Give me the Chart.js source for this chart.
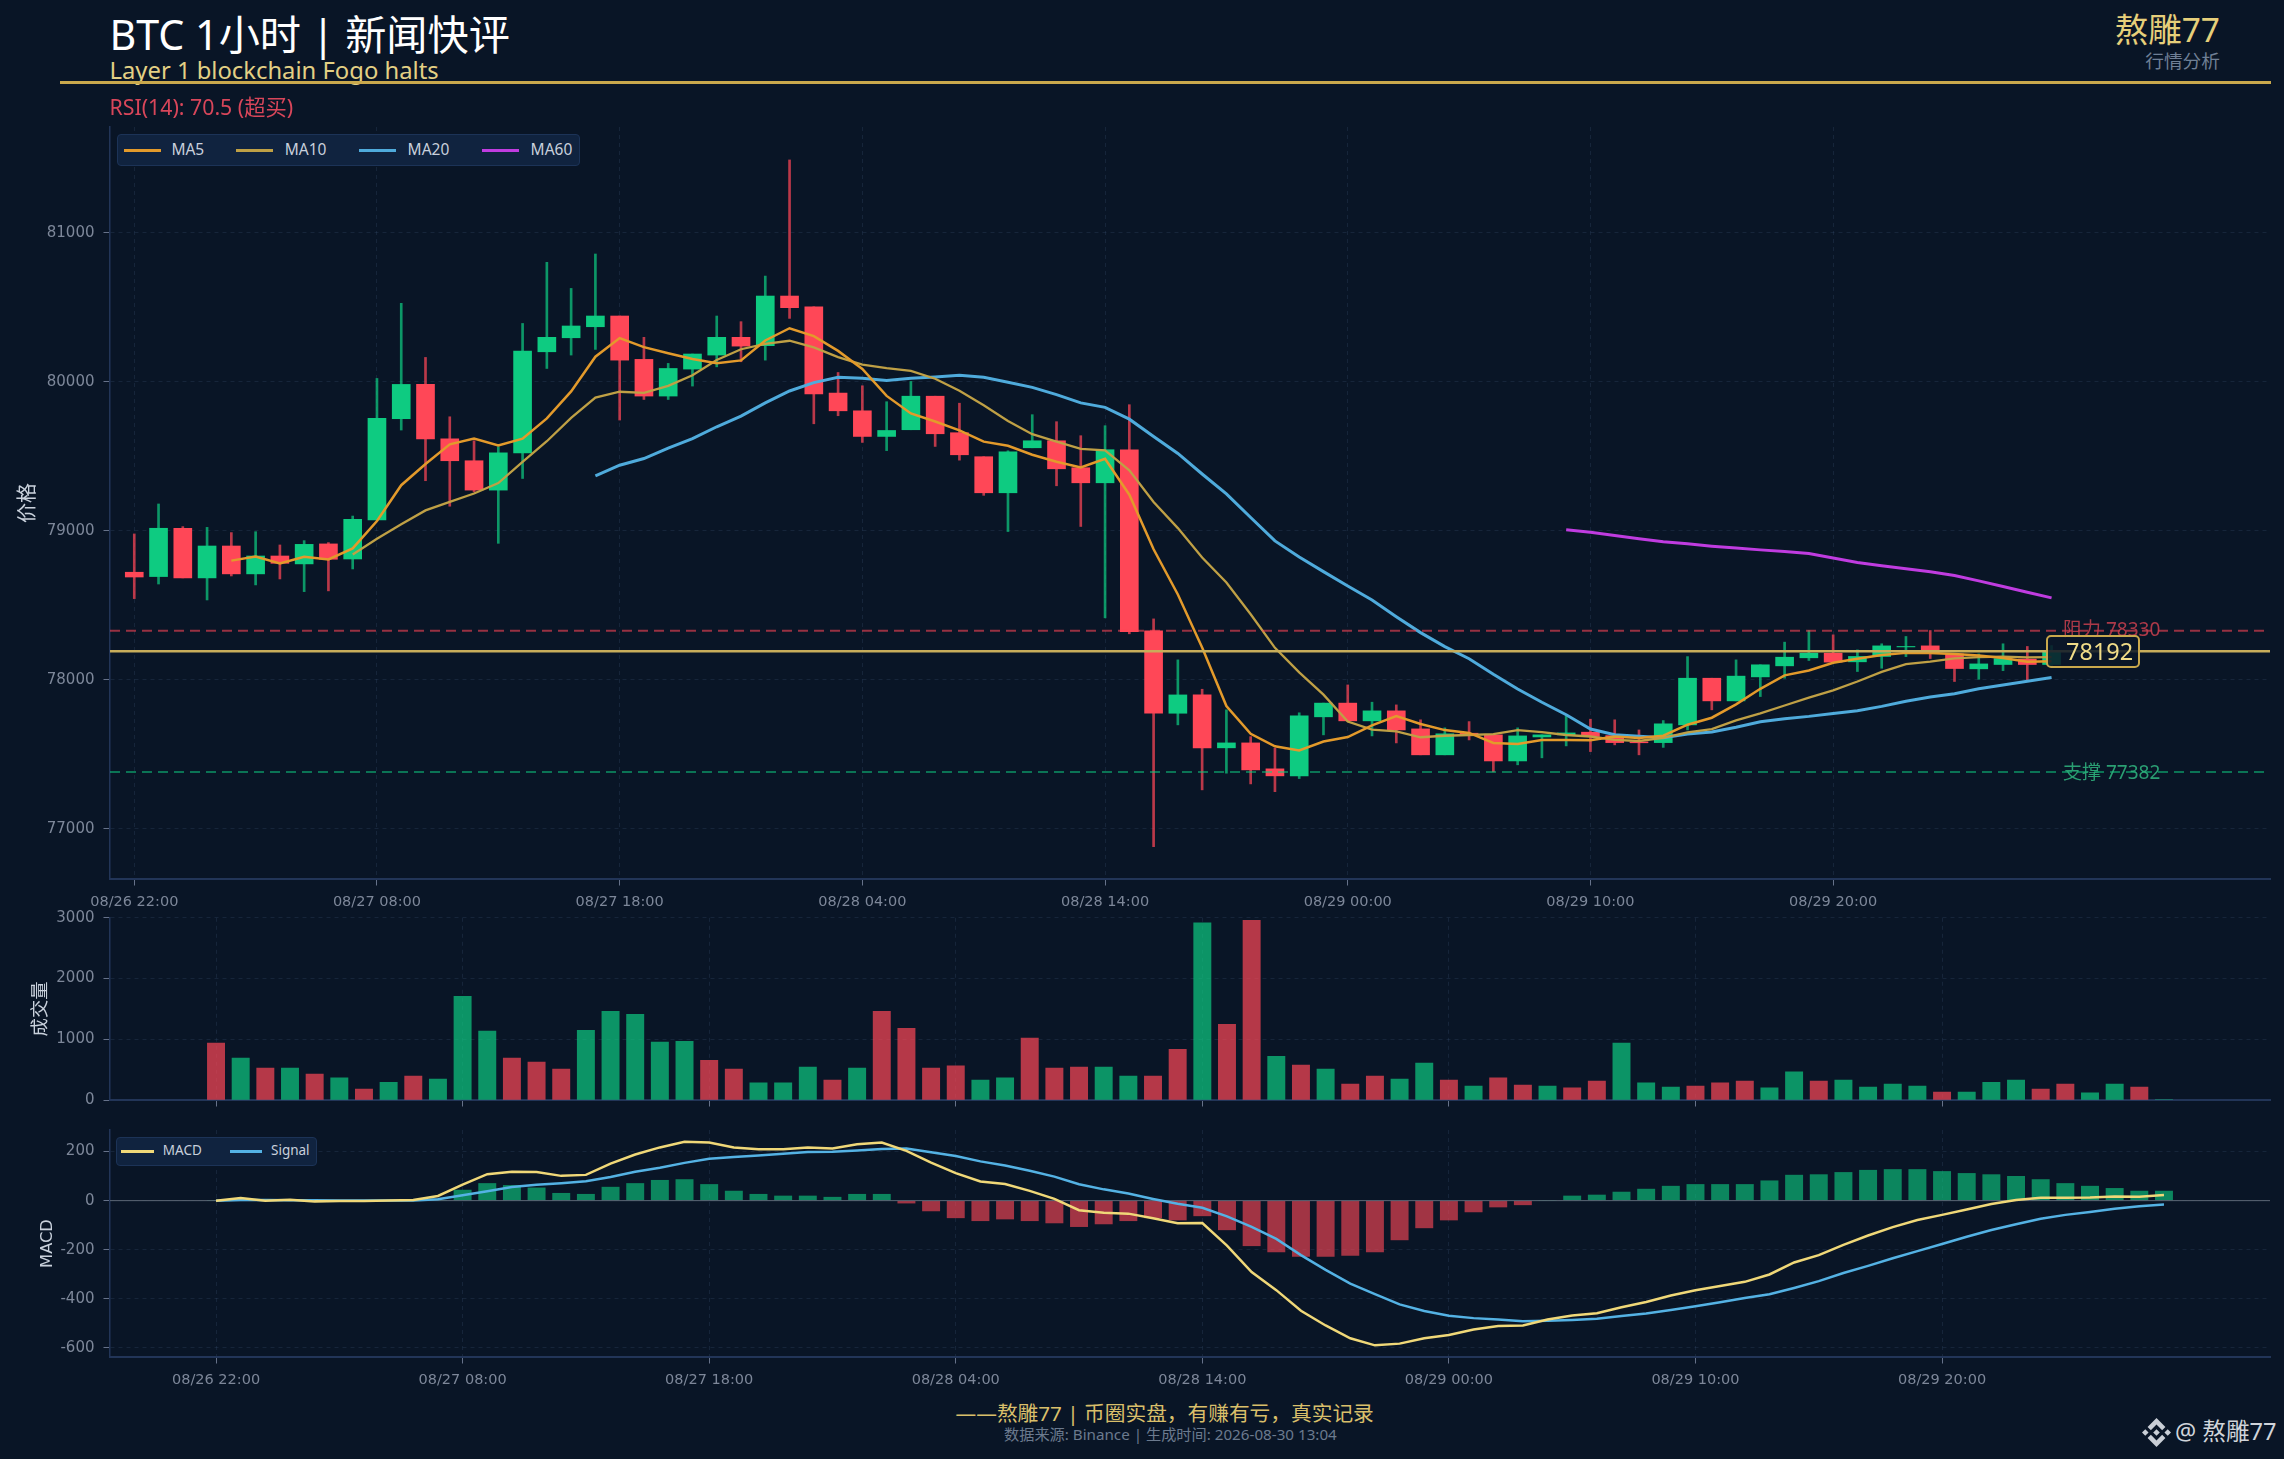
<!DOCTYPE html>
<html lang="zh-CN"><head><meta charset="utf-8">
<script src="https://cdn.jsdelivr.net/npm/chart.js@4/dist/chart.umd.min.js"></script>
<style>
html,body{margin:0;padding:0;background:#091526;width:2284px;height:1459px;overflow:hidden}
canvas{position:absolute;left:0}
.t{position:absolute;white-space:nowrap;transform:translateY(-50%);font-family:"DejaVu Sans","Noto Sans CJK SC",sans-serif;line-height:1}
.cjk{font-family:"Noto Sans","Noto Sans CJK SC",sans-serif}
.r{transform:translate(-100%,-50%)}
.box{position:absolute;box-sizing:border-box;background:#10233f;border:1px solid #1c3357;border-radius:4px}
.sw{position:absolute;height:3px}
.tc{font-family:"Noto Sans CJK TC"}
</style></head><body>
<canvas id="cPrice"></canvas><canvas id="cVol"></canvas><canvas id="cMacd"></canvas>

<div class="t cjk" style="left:109.5px;top:35px;font-size:41.2px;color:#fff">BTC 1小时 | 新闻快评</div>
<div class="t cjk" style="left:109.5px;top:71px;font-size:23.8px;color:#e3d084">Layer 1 blockchain Fogo halts</div>
<div style="position:absolute;left:60px;top:81px;width:2211px;height:3px;background:#c9a84c"></div>
<div class="t cjk" style="left:109.5px;top:106.5px;font-size:21.3px;color:#d8465a">RSI(14): 70.5 (超买)</div>
<div class="t cjk r" style="left:2220px;top:30px;font-size:33.5px;color:#e6cf7a">熬雕77</div>
<div class="t cjk r" style="left:2220px;top:61px;font-size:18.7px;color:#6f7f95">行情分析</div>

<div id="legendPrice" class="box" style="left:117px;top:134px;width:463px;height:32px"></div>
<div id="legendMacd" class="box" style="left:116px;top:1137px;width:201px;height:28.5px"></div>

<div class="t cjk" style="left:2063px;top:629px;font-size:19px;color:#c8404f;opacity:.85">阻力 78330</div>
<div class="t cjk" style="left:2063px;top:771.5px;font-size:19px;color:#2fae7c;opacity:.9">支撑 77382</div>
<div style="position:absolute;left:2046px;top:635px;width:94px;height:33px;box-sizing:border-box;border:2px solid #c9a84c;border-radius:5px;background:rgba(10,22,40,.86)"></div>
<div class="t cjk" style="left:2066px;top:651.5px;font-size:23.5px;color:#f0dc88">78192</div>

<div class="t cjk" style="left:955.5px;top:1412.5px;font-size:20.7px;color:#d9bf6a">——熬雕77 | 币圈实盘<span class="tc">，</span>有赚有亏<span class="tc">，</span>真实记录</div>
<div class="t cjk" style="left:1004px;top:1435px;font-size:15.2px;color:#6b7a8e">数据来源: Binance | 生成时间: 2026-08-30 13:04</div>
<svg style="position:absolute;left:2142px;top:1418px" width="29" height="29" viewBox="0 0 126.61 126.61" fill="#c9ced6">
<path d="M38.73 53.2l24.59-24.58 24.6 24.6 14.3-14.31L63.32 0 24.42 38.9l14.31 14.3zM0 63.31l14.3-14.31 14.31 14.31-14.31 14.3zM38.73 73.41l24.59 24.59 24.6-24.6 14.31 14.29-38.9 38.91-38.91-38.88-.02-.02zM98 63.31l14.3-14.31 14.31 14.3-14.31 14.32zM77.83 63.3L63.32 48.78 52.59 59.51l-1.24 1.23-2.54 2.54 14.51 14.5 14.51-14.47z"/></svg>
<div class="t cjk" style="left:2175px;top:1432px;font-size:23.6px;color:#d0d4da">@ 熬雕77</div>

<script>
const xTickLabels=['08/26 22:00','08/27 08:00','08/27 18:00','08/28 04:00','08/28 14:00','08/29 00:00','08/29 10:00','08/29 20:00'];
const xTickIndex=[0,10,20,30,40,50,60,70];
const priceTicks=[77000,78000,79000,80000,81000];
const volumeTicks=[0,1000,2000,3000];
const macdTicks=[-600,-400,-200,0,200];
const open=[78722,78693,79017,78684,78898,78711,78831,78778,78912,78811,79073,79752,79982,79617,79470,79273,79523,80201,80295,80369,80441,80150,79904,80085,80179,80298,80242,80575,80503,79924,79805,79633,79678,79903,79658,79497,79255,79557,79604,79423,79322,79544,78329,77776,77899,77544,77577,77403,77356,77752,77844,77725,77792,77671,77497,77642,77631,77456,77617,77631,77649,77626,77584,77579,77698,78011,77859,78020,78094,78148,78179,78121,78157,78221,78228,78174,78074,78103,78139,78103];
const high=[78979,79180,79028,79023,78988,78994,78905,78934,78921,79099,80022,80526,80163,79765,79604,79564,80391,80801,80626,80857,80441,80298,80123,80186,80441,80403,80709,81488,80503,80062,79973,79866,80002,79903,79856,79497,79537,79779,79732,79638,79705,79846,78409,78134,77937,77799,77619,77542,77779,77844,77966,77850,77832,77732,77678,77720,77631,77678,77631,77758,77736,77732,77664,77727,78156,78011,78134,78101,78253,78331,78302,78201,78242,78291,78331,78174,78174,78242,78224,78230];
const low=[78545,78643,78684,78536,78697,78637,78677,78592,78597,78744,79073,79676,79336,79165,79261,78916,79351,80089,80179,80217,79743,79881,79881,79971,80100,80134,80145,80425,79718,79772,79593,79538,79678,79566,79474,79238,78995,79557,79302,79029,78416,78309,76881,77698,77262,77374,77302,77250,77338,77631,77725,77624,77577,77497,77497,77597,77383,77430,77477,77557,77519,77564,77497,77547,77664,77799,77859,77888,78011,78130,78119,78056,78078,78156,78143,77989,78004,78062,78000,78090];
const close=[78690,79017,78684,78898,78711,78831,78782,78909,78809,79077,79754,79982,79617,79470,79273,79523,80206,80298,80374,80441,80145,79904,80089,80186,80298,80239,80575,80497,79919,79805,79633,79673,79903,79651,79510,79255,79530,79604,79416,79322,79544,78324,77776,77899,77544,77577,77396,77356,77758,77844,77725,77792,77664,77497,77638,77631,77456,77624,77631,77644,77620,77579,77578,77705,78011,77859,78025,78101,78152,78179,78119,78157,78228,78224,78179,78076,78107,78143,78103,78192];
const ma5=[null,null,null,null,78800,78828,78781,78826,78808,78882,79066,79306,79448,79580,79619,79573,79618,79754,79935,80168,80293,80232,80191,80153,80124,80143,80277,80359,80306,80207,80086,79905,79787,79733,79674,79598,79570,79510,79463,79425,79483,79242,78876,78573,78217,77824,77638,77554,77526,77586,77616,77695,77757,77704,77663,77644,77577,77569,77596,77597,77595,77620,77610,77625,77699,77746,77836,77940,78030,78063,78115,78142,78167,78181,78181,78173,78163,78146,78122,78124];
const ma10=[null,null,null,null,null,null,null,null,null,78841,78947,79044,79137,79194,79250,79320,79462,79601,79757,79894,79933,79925,79972,80044,80146,80218,80254,80275,80230,80165,80115,80091,80073,80020,79940,79842,79737,79648,79598,79550,79540,79406,79193,79018,78821,78653,78440,78215,78050,77901,77720,77666,77655,77615,77625,77630,77636,77663,77650,77630,77620,77598,77590,77610,77648,77670,77728,77775,77828,77881,77930,77989,78053,78105,78122,78144,78152,78156,78151,78152];
const ma20=[null,null,null,null,null,null,null,null,null,null,null,null,null,null,null,null,null,null,null,79368,79440,79485,79555,79619,79698,79769,79858,79938,79994,80030,80024,80008,80023,80032,80043,80030,79996,79962,79914,79858,79828,79749,79633,79519,79381,79248,79089,78932,78824,78726,78630,78536,78424,78317,78223,78142,78038,77939,77850,77766,77670,77632,77622,77612,77636,77650,77682,77719,77739,77755,77775,77793,77822,77857,77885,77907,77940,77965,77990,78016];
const ma60Start=59;
const ma60Values=[79007,78991,78968,78946,78926,78913,78897,78884,78872,78861,78848,78817,78787,78765,78745,78725,78700,78664,78626,78588,78550];
const priceNow=78192, resistance=78330, support=77382;
const volume=[936,690,526,526,427,363,181,292,392,345,1708,1135,690,626,509,1146,1462,1409,953,965,655,509,281,281,544,327,526,1462,1181,526,561,327,363,1018,526,544,544,392,392,836,2918,1246,2960,719,573,509,263,392,345,608,327,228,363,246,228,199,310,936,281,211,228,281,310,199,462,310,327,211,263,228,129,129,292,327,181,263,117,263,211,8];
const macd=[0,11,0,4,-3,-1,-1,1,3,19,65,108,118,117,101,105,151,188,217,240,237,217,210,210,217,213,230,237,203,155,112,78,68,40,7,-39,-49,-53,-72,-92,-91,-183,-291,-365,-449,-509,-561,-590,-583,-561,-548,-525,-511,-509,-485,-468,-459,-435,-413,-387,-365,-348,-331,-301,-252,-222,-180,-142,-108,-79,-58,-36,-14,3,12,12,13,17,16,23];
const signal=[0,3,3,2,2,1,1,1,1,6,22,38,56,65,71,79,96,118,134,154,171,178,184,191,198,199,204,211,213,197,182,160,143,122,98,67,46,29,7,-13,-29,-64,-107,-156,-222,-282,-338,-381,-423,-450,-469,-479,-485,-492,-490,-487,-482,-470,-460,-446,-431,-414,-397,-382,-356,-328,-295,-266,-235,-206,-177,-147,-120,-96,-74,-58,-46,-33,-23,-16];
const hist=[0,0,0,0,0,0,0,0,0,0,43,70,62,52,30,26,55,70,83,86,66,39,26,19,19,14,26,26,-10,-42,-70,-82,-75,-82,-91,-106,-95,-82,-70,-79,-62,-119,-184,-209,-227,-227,-223,-209,-160,-111,-79,-46,-26,-17,0,19,23,35,47,59,66,66,66,81,104,106,115,124,127,127,119,111,106,99,86,70,59,50,39,39];

const C_MA5='#e39a2b', C_MA10='#bfa045', C_MA20='#4fabdc', C_MA60='#c03ce0', C_MACD='#f0d878', C_SIGNAL='#54b2e4';
const priceLegend=[['MA5',C_MA5,123.5,171.4],['MA10',C_MA10,236,284.7],['MA20',C_MA20,359,407.6],['MA60',C_MA60,482,530.6]];
const macdLegend=[['MACD',C_MACD,121.4,162.8],['Signal',C_SIGNAL,229.6,271]];

const UP='#0ecb81', DOWN='#ff4757';
const rgba=(hex,a)=>{const n=parseInt(hex.slice(1),16);return `rgba(${n>>16},${(n>>8)&255},${n&255},${a})`};
const idx=close.map((_,i)=>i);
const isUp=i=>close[i]>=open[i];
const FONT='"DejaVu Sans","Noto Sans CJK SC",sans-serif';
const TICK='#7d8799', SPINE='#223558', GRID='rgba(70,95,130,0.22)', TICKMARK='#66728a';
Chart.defaults.devicePixelRatio=1;
Chart.defaults.animation=false;

function legendItems(host,items,hostLeft,hostTop,hostH,font,swW){
  items.forEach(([name,color,lx,tx])=>{
    const s=document.createElement('div');s.className='sw';
    s.style.cssText+=`left:${lx-hostLeft-1}px;top:${hostH/2-2.5}px;width:${swW}px;background:${color}`;
    host.appendChild(s);
    const t=document.createElement('div');t.className='t cjk';t.textContent=name;
    t.style.cssText+=`left:${tx-hostLeft-1}px;top:${hostH/2-1}px;font-size:${font}px;color:#c8d0dc`;
    host.appendChild(t);
  });
}
legendItems(document.getElementById('legendPrice'),priceLegend,117,134,32,15.5,37);
legendItems(document.getElementById('legendMacd'),macdLegend,116,1137,28.5,13.5,32.5);

function xAxis(min,max,showLabels,height){
  return {type:'linear',min,max,offset:false,
    ticks:{autoSkip:false,maxRotation:0,display:showLabels,color:TICK,font:{family:FONT,size:14.5},padding:8,
      callback:v=>xTickLabels[xTickIndex.indexOf(v)]},
    afterBuildTicks:s=>{s.ticks=xTickIndex.map(value=>({value}))},
    afterFit:s=>{s.height=height;s.paddingLeft=0;s.paddingRight=0},
    grid:{offset:false,color:GRID,lineWidth:1,tickColor:TICKMARK,tickLength:6.5,drawTicks:true},
    border:{color:SPINE,width:2,dash:[4,4]}};
}
function yAxis(min,max,tickValues,title,titleX,titleSize){
  return {type:'linear',min,max,
    ticks:{autoSkip:false,color:TICK,font:{family:FONT,size:15},padding:9,callback:v=>String(v)},
    afterBuildTicks:s=>{s.ticks=tickValues.map(value=>({value}))},
    afterFit:s=>{s.width=110;s.paddingTop=0;s.paddingBottom=0},
    title:{display:true,text:title,color:'#c9d1dc',font:{family:FONT,size:titleSize},
      padding:{top:titleX-titleSize*0.6,bottom:0}},
    grid:{color:GRID,lineWidth:1,tickColor:TICKMARK,tickLength:6.5},
    border:{color:SPINE,width:1.5,dash:[4,4]}};
}
function setup(id,top,h){const c=document.getElementById(id);c.width=2284;c.height=h;c.style.top=top+'px';c.style.width='2284px';c.style.height=h+'px';return c}
const lineDs=(label,data,color,width,order)=>({type:'line',label,data:data.map((y,i)=>({x:i,y})),borderColor:color,borderWidth:width,pointRadius:0,tension:0,spanGaps:false,order});
const hLine=(label,y,x0,x1,color,width,dash,order)=>({type:'line',label,data:[{x:x0,y},{x:x1,y}],borderColor:color,borderWidth:width,borderDash:dash,pointRadius:0,order});
const common={responsive:false,maintainAspectRatio:false,plugins:{legend:{display:false},tooltip:{enabled:false}}};

const X1=[-1,88], X2=[-4.3,83.3];
const ma60=idx.map(i=>i<ma60Start?null:ma60Values[i-ma60Start]);

new Chart(setup('cPrice',120,795),{data:{datasets:[
  hLine('price',priceNow,X1[0],X1[1],'#c8ad5a',2.4,[],1),
  hLine('resistance',resistance,X1[0],X1[1],rgba(DOWN,.58),2,[10,6],2),
  hLine('support',support,X1[0],X1[1],rgba(UP,.52),2,[10,6],2),
  lineDs('MA5',ma5,C_MA5,2.5,3),
  lineDs('MA10',ma10,C_MA10,2.3,4),
  lineDs('MA20',ma20,C_MA20,3,5),
  lineDs('MA60',ma60,C_MA60,3,5),
  {type:'bar',label:'body',data:idx.map(i=>({x:i,y:[open[i],close[i]]})),backgroundColor:idx.map(i=>isUp(i)?UP:DOWN),barThickness:18,grouped:false,order:8},
  {type:'bar',label:'wick',data:idx.map(i=>({x:i,y:[low[i],high[i]]})),backgroundColor:idx.map(i=>rgba(isUp(i)?UP:DOWN,.72)),barThickness:2,grouped:false,order:9}
]},options:{...common,layout:{padding:{top:7,right:14,left:0,bottom:0}},
  scales:{x:xAxis(X1[0],X1[1],true,36),y:yAxis(76664,81709,priceTicks,'价格',29,20)}}});

new Chart(setup('cVol',905,205),{data:{datasets:[
  {type:'bar',label:'volume',data:idx.map(i=>({x:i,y:volume[i]})),backgroundColor:idx.map(i=>rgba(isUp(i)?UP:DOWN,.7)),barThickness:17.3,grouped:false}
]},options:{...common,layout:{padding:{top:12.8,right:14,left:0,bottom:0}},
  scales:{x:xAxis(X2[0],X2[1],false,10),y:yAxis(0,3000,volumeTicks,'成交量',41.5,18.4)}}});

new Chart(setup('cMacd',1115,278),{data:{datasets:[
  lineDs('MACD',macd,C_MACD,2.5,1),
  lineDs('Signal',signal,C_SIGNAL,2.5,1),
  hLine('zero',0,X2[0],X2[1],'#5c6675',1,[],2),
  {type:'bar',label:'hist',data:idx.map(i=>({x:i,y:hist[i]})),backgroundColor:idx.map(i=>rgba(hist[i]>=0?UP:DOWN,.62)),barThickness:17.3,grouped:false,order:3}
]},options:{...common,layout:{padding:{top:15,right:14,left:0,bottom:0}},
  scales:{x:xAxis(X2[0],X2[1],true,36),y:yAxis(-637.5,288,macdTicks,'MACD',47.5,16.3)}}});
</script>
</body></html>
